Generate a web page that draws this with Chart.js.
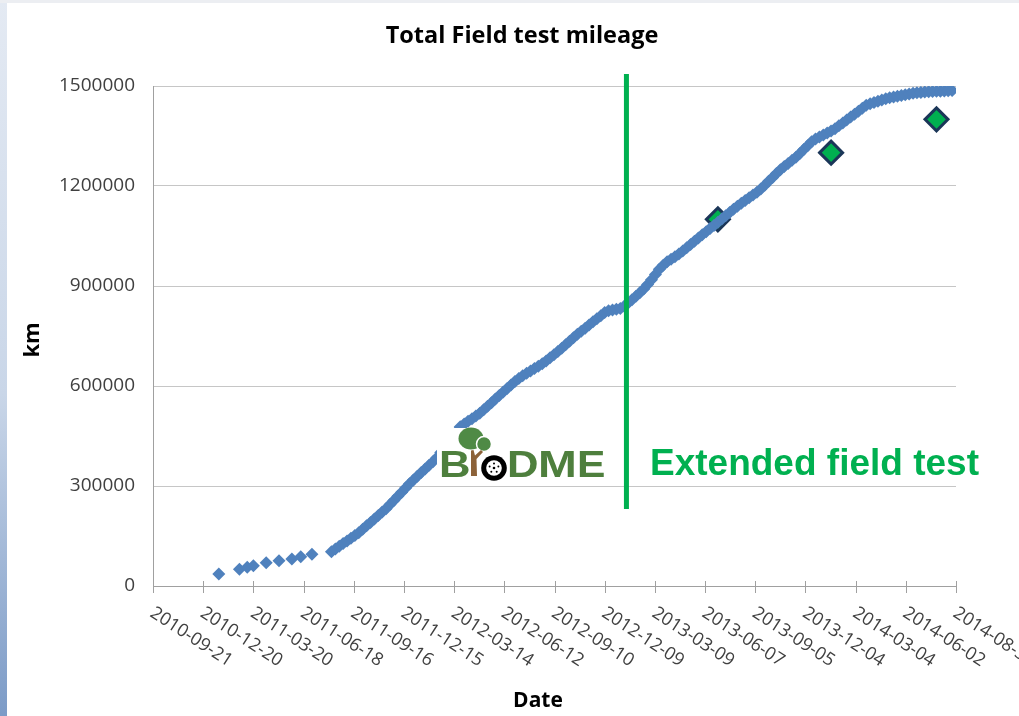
<!DOCTYPE html>
<html>
<head>
<meta charset="utf-8">
<title>Total Field test mileage</title>
<script src="https://cdn.jsdelivr.net/npm/chart.js@4.4.1/dist/chart.umd.min.js"></script>
<style>
  html, body { margin: 0; padding: 0; background: #fff; overflow: hidden; }
  canvas { display: block; }
</style>
</head>
<body>
<canvas id="chart" width="1019" height="716"></canvas>
<script>
// Axis tick dates (every 90 days)
const tickLabels = [
  '2010-09-21','2010-12-20','2011-03-20','2011-06-18','2011-09-16','2011-12-15',
  '2012-03-14','2012-06-12','2012-09-10','2012-12-09','2013-03-09','2013-06-07',
  '2013-09-05','2013-12-04','2014-03-04','2014-06-02','2014-08-31'
];
const yTicks = [0, 300000, 600000, 900000, 1200000, 1500000];

// Accumulated field test mileage (km)
const mileageDates = [
  '2011-01-17','2011-02-23','2011-03-09','2011-03-20','2011-04-12','2011-05-05','2011-05-28','2011-06-13','2011-07-03',
  '2011-08-07','2011-08-14','2011-08-21','2011-08-28','2011-09-04','2011-09-11','2011-09-18','2011-09-25',
  '2011-10-02','2011-10-09','2011-10-16','2011-10-23','2011-10-30','2011-11-06','2011-11-13','2011-11-20','2011-11-27',
  '2011-12-04','2011-12-11','2011-12-18','2011-12-25',
  '2012-01-01','2012-01-08','2012-01-15','2012-01-22','2012-01-29','2012-02-05','2012-02-12','2012-02-19','2012-02-26',
  '2012-03-04','2012-03-11','2012-03-18','2012-03-25','2012-04-01','2012-04-08','2012-04-15','2012-04-22','2012-04-29',
  '2012-05-06','2012-05-13','2012-05-20','2012-05-27','2012-06-03','2012-06-10','2012-06-17','2012-06-24',
  '2012-07-01','2012-07-08','2012-07-15','2012-07-22','2012-07-29','2012-08-05','2012-08-12','2012-08-19','2012-08-26',
  '2012-09-02','2012-09-09','2012-09-16','2012-09-23','2012-09-30','2012-10-07','2012-10-14','2012-10-21','2012-10-28',
  '2012-11-04','2012-11-11','2012-11-18','2012-11-25','2012-12-02','2012-12-09','2012-12-16','2012-12-23','2012-12-30',
  '2013-01-06','2013-01-13','2013-01-20','2013-01-27','2013-02-03','2013-02-10','2013-02-17','2013-02-24',
  '2013-03-03','2013-03-10','2013-03-17','2013-03-24','2013-03-31','2013-04-07','2013-04-14','2013-04-21','2013-04-28',
  '2013-05-05','2013-05-12','2013-05-19','2013-05-26','2013-06-02','2013-06-09','2013-06-16','2013-06-23','2013-06-30',
  '2013-07-07','2013-07-14','2013-07-21','2013-07-28','2013-08-04','2013-08-11','2013-08-18','2013-08-25',
  '2013-09-01','2013-09-08','2013-09-15','2013-09-22','2013-09-29','2013-10-06','2013-10-13','2013-10-20','2013-10-27',
  '2013-11-03','2013-11-10','2013-11-17','2013-11-24','2013-12-01','2013-12-08','2013-12-15','2013-12-22','2013-12-29',
  '2014-01-05','2014-01-12','2014-01-19','2014-01-26','2014-02-02','2014-02-09','2014-02-16','2014-02-23',
  '2014-03-02','2014-03-09','2014-03-16','2014-03-23','2014-03-30','2014-04-06','2014-04-13','2014-04-20','2014-04-27',
  '2014-05-04','2014-05-11','2014-05-18','2014-05-25','2014-06-01','2014-06-08','2014-06-15','2014-06-22','2014-06-29',
  '2014-07-06','2014-07-13','2014-07-20','2014-07-27','2014-08-03','2014-08-10','2014-08-17','2014-08-24'
];
const mileageKm = [
  36000, 50000, 56000, 61000, 70000, 76000, 81000, 88000, 95000,
  102900, 111000, 119100, 127200, 135200, 143300, 151400, 159900,
  170200, 180500, 190800, 201100, 211400, 221800, 232100, 244300, 256700,
  269200, 281600, 294100, 306500,
  318200, 329200, 340200, 351100, 362100, 373100, 384400, 400200, 415900,
  431600, 447300, 463100, 477900, 485900, 493900, 502000, 510000, 518000,
  528600, 539400, 550100, 560800, 571500, 582000, 592500, 603000,
  613500, 622500, 630400, 638200, 645300, 652300, 659300, 666400, 675200,
  684500, 693800, 703200, 713100, 723600, 734100, 744600, 754900, 764200,
  773600, 783000, 792400, 801700, 811100, 820400, 826100, 828200, 830300,
  832400, 839300, 848700, 858600, 869100, 879600, 891100, 904400,
  919100, 934700, 950400, 962600, 972500, 980300, 988100, 996000, 1005200,
  1014900, 1024600, 1034300, 1044000, 1053500, 1062900, 1072300, 1081700, 1091200,
  1100900, 1110600, 1120400, 1130100, 1139600, 1148000, 1156400, 1164800,
  1173200, 1181500, 1190700, 1202400, 1214100, 1225800, 1237500, 1248900, 1258200,
  1267600, 1276900, 1286200, 1297500, 1309200, 1321000, 1332800, 1341300, 1347100,
  1353000, 1358900, 1364700, 1371900, 1380600, 1389300, 1398000, 1406800,
  1415500, 1424300, 1433100, 1441900, 1446400, 1450300, 1454300, 1458200, 1462100,
  1464700, 1466900, 1469100, 1471300, 1473500, 1475700, 1477900, 1479400, 1480800,
  1482200, 1483000, 1483500, 1484000, 1484600, 1485200, 1485800, 1486300
];

// Milestone targets (green diamonds)
const targetDates = ['2013-06-30', '2014-01-19', '2014-07-27'];
const targetKm = [1100000, 1300000, 1400000];

// Start of the extended field test
const extensionStart = '2013-01-17';

const toDay = s => Date.parse(s + 'T00:00:00Z') / 86400000;
const FONT = '"Open Sans", "Liberation Sans", Arial, sans-serif';

function stretchedText(ctx, text, x, y, sx) {
  ctx.save();
  ctx.translate(x, y);
  ctx.scale(sx, 1);
  ctx.fillText(text, 0, 0);
  ctx.restore();
}

function drawLogo(ctx) {
  ctx.save();
  ctx.fillStyle = '#ffffff';
  ctx.fillRect(437, 428, 172, 56);

  // tree canopy
  ctx.fillStyle = '#4F8A45';
  ctx.beginPath(); ctx.ellipse(471, 438.5, 12.5, 11, 0, 0, Math.PI * 2); ctx.fill();
  ctx.strokeStyle = '#ffffff'; ctx.lineWidth = 1.5;
  ctx.beginPath(); ctx.arc(484, 444, 7.5, 0, Math.PI * 2); ctx.fill(); ctx.stroke();

  // trunk forming the letter I
  ctx.fillStyle = '#8C6239';
  ctx.beginPath();
  ctx.moveTo(471, 476); ctx.lineTo(477, 476); ctx.lineTo(476.5, 459);
  ctx.lineTo(483, 452); ctx.lineTo(481, 450); ctx.lineTo(475, 455.5);
  ctx.lineTo(473.5, 450); ctx.lineTo(471, 450.5);
  ctx.closePath(); ctx.fill();

  // wheel forming the letter O
  ctx.fillStyle = '#000000';
  ctx.beginPath(); ctx.arc(494, 468, 12.8, 0, Math.PI * 2); ctx.fill();
  ctx.fillStyle = '#ffffff';
  ctx.beginPath(); ctx.arc(494, 468, 7.8, 0, Math.PI * 2); ctx.fill();
  ctx.fillStyle = '#000000';
  ctx.beginPath(); ctx.arc(494, 468, 1.3, 0, Math.PI * 2); ctx.fill();
  for (let k = 0; k < 5; k++) {
    const a = -Math.PI / 2 + k * 2 * Math.PI / 5;
    ctx.beginPath(); ctx.arc(494 + 4.6 * Math.cos(a), 468 + 4.6 * Math.sin(a), 1, 0, Math.PI * 2); ctx.fill();
  }

  // letters
  ctx.fillStyle = '#4E7F3D';
  ctx.font = 'bold 37px "Liberation Sans", Arial, sans-serif';
  ctx.textBaseline = 'alphabetic';
  ctx.textAlign = 'left';
  stretchedText(ctx, 'B', 439, 477, 1.18);
  stretchedText(ctx, 'D', 507, 477, 1.18);
  stretchedText(ctx, 'M', 538, 477, 1.26);
  stretchedText(ctx, 'E', 577, 477, 1.15);
  ctx.restore();
}

const decor = {
  id: 'decor',
  beforeDraw(chart) {
    const { ctx, width, height } = chart;
    ctx.save();
    ctx.fillStyle = '#ffffff';
    ctx.fillRect(0, 0, width, height);
    const g = ctx.createLinearGradient(0, 0, 0, height);
    g.addColorStop(0, '#E4EAF3');
    g.addColorStop(0.55, '#C9D6E8');
    g.addColorStop(1, '#7C9BC7');
    ctx.fillStyle = g;
    ctx.fillRect(0, 0, 7, height);
    ctx.fillStyle = '#ECEEF2';
    ctx.fillRect(0, 0, width, 3);
    ctx.restore();
  },
  afterDatasetsDraw(chart) {
    const { ctx, chartArea, scales: { x } } = chart;
    drawLogo(ctx);

    const lx = x.getPixelForValue(toDay(extensionStart));
    ctx.save();
    ctx.strokeStyle = '#00B050';
    ctx.lineWidth = 5;
    ctx.beginPath();
    ctx.moveTo(lx, chartArea.top - 12);
    ctx.lineTo(lx, 509);
    ctx.stroke();

    ctx.fillStyle = '#00B050';
    ctx.font = 'bold 37px "Liberation Sans", Arial, sans-serif';
    ctx.textAlign = 'left';
    ctx.textBaseline = 'alphabetic';
    ctx.fillText('Extended field test', 650, 475);
    ctx.restore();
  },
  afterDraw(chart) {
    const { ctx, chartArea, scales: { x } } = chart;
    ctx.save();
    // cross tick marks on the date axis
    ctx.strokeStyle = '#A0A0A0';
    ctx.lineWidth = 1;
    tickLabels.forEach(t => {
      const px = Math.round(x.getPixelForValue(toDay(t))) + 0.5;
      ctx.beginPath();
      ctx.moveTo(px, chartArea.bottom - 5);
      ctx.lineTo(px, chartArea.bottom + 7);
      ctx.stroke();
    });

    // slanted date labels
    const ang = 33 * Math.PI / 180;
    const capH = 12.8;
    ctx.fillStyle = '#404040';
    ctx.font = '18px ' + FONT;
    ctx.textAlign = 'left';
    ctx.textBaseline = 'alphabetic';
    tickLabels.forEach(t => {
      const px = x.getPixelForValue(toDay(t));
      const bx = px + 3 - capH * Math.sin(ang);
      const by = chartArea.bottom + 19 + capH * Math.cos(ang);
      ctx.save();
      ctx.translate(bx, by);
      ctx.rotate(ang);
      ctx.fillText(t, 0, 0);
      ctx.restore();
    });

    // titles
    ctx.fillStyle = '#000000';
    ctx.textAlign = 'center';
    ctx.font = 'bold 23.5px ' + FONT;
    ctx.fillText('Total Field test mileage', 522, 43);
    ctx.font = 'bold 21px ' + FONT;
    ctx.fillText('Date', 538, 707);
    ctx.save();
    ctx.translate(39, 340);
    ctx.rotate(-Math.PI / 2);
    ctx.font = 'bold 22px ' + FONT;
    ctx.fillText('km', 0, 0);
    ctx.restore();
    ctx.restore();
  }
};

new Chart(document.getElementById('chart'), {
  type: 'scatter',
  data: {
    datasets: [
      {
        label: 'Total mileage',
        data: mileageDates.map((d, i) => ({ x: toDay(d), y: mileageKm[i] })),
        pointStyle: 'rectRot',
        pointRadius: 6.5,
        backgroundColor: '#4F81BD',
        borderColor: '#4F81BD',
        borderWidth: 0
      },
      {
        label: 'Target',
        data: targetDates.map((d, i) => ({ x: toDay(d), y: targetKm[i] })),
        pointStyle: 'rectRot',
        pointRadius: 11.5,
        backgroundColor: '#00B050',
        borderColor: '#1B3658',
        borderWidth: 3
      }
    ]
  },
  options: {
    responsive: false,
    animation: false,
    events: [],
    layout: { padding: { top: 86, right: 63, left: 0, bottom: 0 } },
    plugins: { legend: { display: false }, tooltip: { enabled: false }, title: { display: false } },
    scales: {
      x: {
        type: 'linear',
        min: toDay(tickLabels[0]),
        max: toDay(tickLabels[tickLabels.length - 1]),
        ticks: { display: false },
        grid: { display: false },
        border: { display: true, color: '#A0A0A0', width: 1 },
        afterFit: s => { s.height = 130; }
      },
      y: {
        min: yTicks[0],
        max: yTicks[yTicks.length - 1],
        afterBuildTicks: s => { s.ticks = yTicks.map(v => ({ value: v })); },
        ticks: {
          padding: 18,
          color: '#404040',
          font: { family: '"Open Sans", "Liberation Sans", Arial, sans-serif', size: 19 },
          callback: v => String(v)
        },
        grid: { color: '#C6C6C6', drawTicks: false },
        border: { display: true, color: '#A0A0A0', width: 1 },
        afterFit: s => { s.width = 153; }
      }
    }
  },
  plugins: [decor]
});
</script>
</body>
</html>
